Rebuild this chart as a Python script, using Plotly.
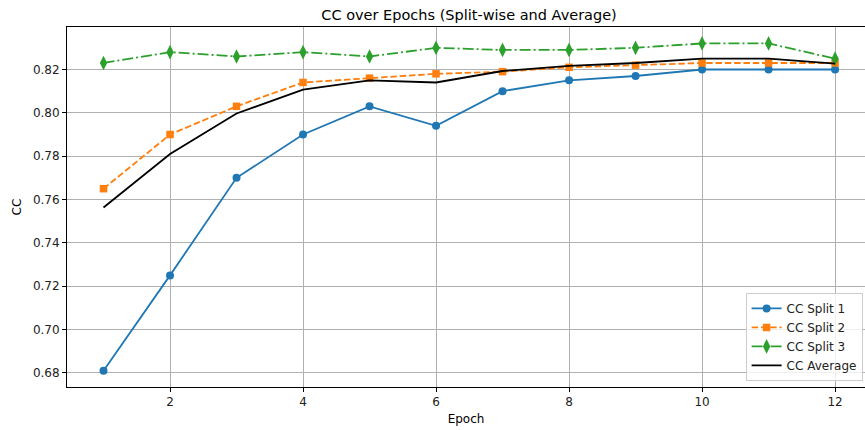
import plotly.graph_objects as go

epochs = [1, 2, 3, 4, 5, 6, 7, 8, 9, 10, 11, 12]
split1 = [0.681, 0.725, 0.770, 0.790, 0.803, 0.794, 0.810, 0.815, 0.817, 0.820, 0.820, 0.820]
split2 = [0.765, 0.790, 0.803, 0.814, 0.816, 0.818, 0.819, 0.821, 0.822, 0.823, 0.823, 0.823]
split3 = [0.823, 0.828, 0.826, 0.828, 0.826, 0.830, 0.829, 0.829, 0.830, 0.832, 0.832, 0.825]
average = [0.7563, 0.781, 0.7997, 0.8107, 0.815, 0.814, 0.8193, 0.8217, 0.823, 0.825, 0.825, 0.8227]
x_ticks = [2, 4, 6, 8, 10, 12]
y_ticks = [0.68, 0.70, 0.72, 0.74, 0.76, 0.78, 0.80, 0.82]

FONT = "DejaVu Sans"

fig = go.Figure()
fig.add_trace(go.Scatter(x=epochs, y=split1, mode="lines+markers", name="CC Split 1",
                         line=dict(color="#1f77b4", width=1.8),
                         marker=dict(symbol="circle", size=8, color="#1f77b4")))
fig.add_trace(go.Scatter(x=epochs, y=split2, mode="lines+markers", name="CC Split 2",
                         line=dict(color="#ff7f0e", width=1.8, dash="6.5px,2.8px"),
                         marker=dict(symbol="square", size=7.5, color="#ff7f0e")))
fig.add_trace(go.Scatter(x=epochs, y=split3, mode="lines+markers", name="CC Split 3",
                         line=dict(color="#2ca02c", width=1.8, dash="11px,3px,2px,3px"),
                         marker=dict(symbol="diamond-tall", size=10.5, color="#2ca02c")))
fig.add_trace(go.Scatter(x=epochs, y=average, mode="lines", name="CC Average",
                         line=dict(color="black", width=1.8)))

fig.update_layout(
    width=865, height=430,
    margin=dict(l=67, r=0, t=27, b=43),
    paper_bgcolor="white", plot_bgcolor="white",
    font=dict(family=FONT, size=12, color="#222222"),
    title=dict(text="CC over Epochs (Split-wise and Average)", xref="paper", x=0.5038, xanchor="center",
               y=1 - 15 / 430, yanchor="middle", font=dict(family=FONT, size=14.5, color="black")),
    legend=dict(x=0.997, xanchor="right", y=0.017, yanchor="bottom",
                bgcolor="rgba(255,255,255,0.8)", bordercolor="#cccccc", borderwidth=1,
                font=dict(family=FONT, size=12, color="#222222"), tracegroupgap=0,
                itemwidth=30),
    showlegend=True,
)
fig.update_xaxes(range=[0.451, 12.45], tickvals=x_ticks, ticktext=[str(t) for t in x_ticks],
                 showgrid=True, gridcolor="#b0b0b0", gridwidth=1,
                 showline=True, linecolor="black", linewidth=1, mirror=True,
                 ticks="outside", ticklen=4, tickcolor="black", zeroline=False,
                 title=dict(text="Epoch", font=dict(family=FONT, size=12, color="black"), standoff=6),
                 tickfont=dict(family=FONT, size=12, color="#222222"))
fig.update_yaxes(range=[0.6735, 0.8396], tickvals=y_ticks, ticktext=[f"{t:.2f}" for t in y_ticks],
                 showgrid=True, gridcolor="#b0b0b0", gridwidth=1,
                 showline=True, linecolor="black", linewidth=1, mirror=True,
                 ticks="outside", ticklen=4, tickcolor="black", zeroline=False,
                 title=dict(text="CC", font=dict(family=FONT, size=12, color="black"), standoff=8),
                 tickfont=dict(family=FONT, size=12, color="#222222"))

fig.write_html("out.html")
